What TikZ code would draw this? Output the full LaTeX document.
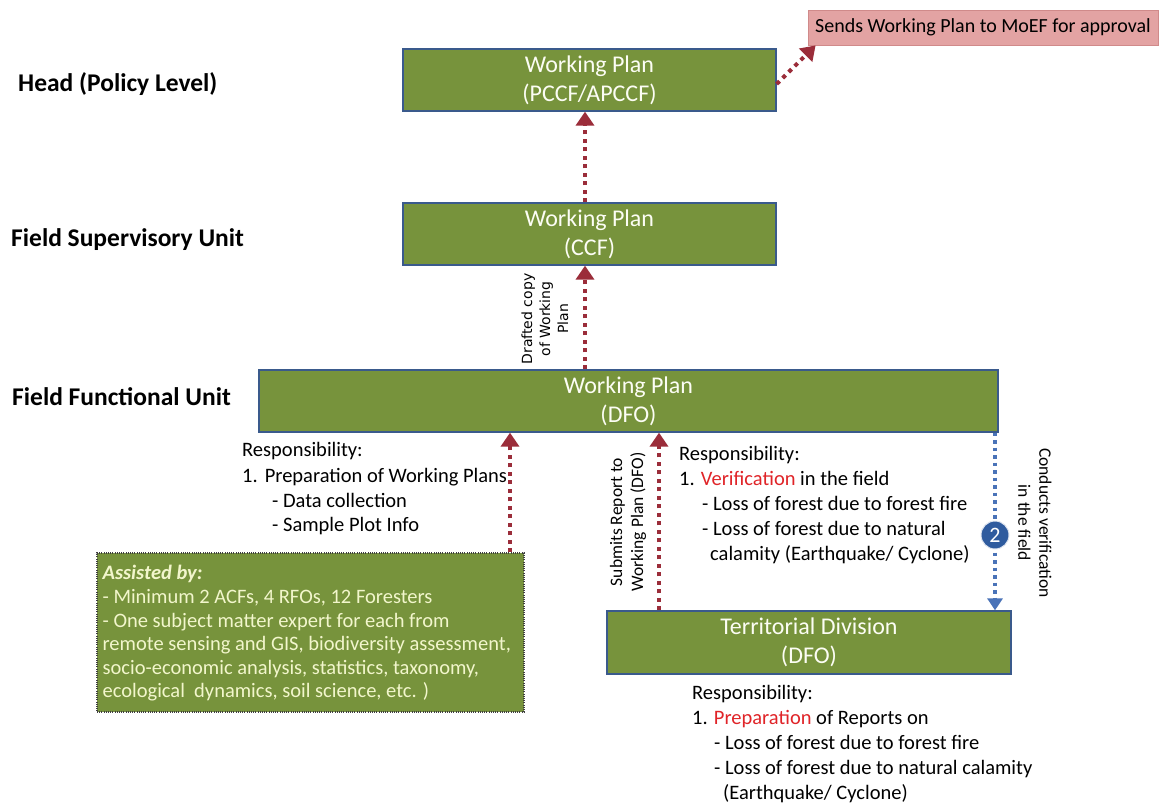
\documentclass[tikz,border=0pt]{standalone}
\usepackage{fontspec}
\setmainfont{Carlito}
\newfontfamily\vfont{DejaVu Sans}
\usetikzlibrary{arrows.meta,calc}

\definecolor{boxgreen}{HTML}{77933C}
\definecolor{boxedge}{HTML}{3A5A8C}
\definecolor{boxtext}{HTML}{FCFDF4}
\definecolor{assisttext}{HTML}{F2F6CC}
\definecolor{arrred}{HTML}{9B2D3A}
\definecolor{arrblue}{HTML}{4A73B8}
\definecolor{circblue}{HTML}{2F5B9E}
\definecolor{redtxt}{HTML}{E02428}
\definecolor{pinkfill}{HTML}{E3A3A3}
\definecolor{pinkedge}{HTML}{D08A8A}

\tikzset{
  gbox/.style={draw=boxedge, line width=1.3pt, fill=boxgreen, text=boxtext,
    font=\fontsize{24}{29}\selectfont, align=center, inner sep=0pt},
  abox/.style={draw=black!75, line width=1.2pt, dash pattern=on 1pt off 1.2pt,
    fill=boxgreen, inner sep=0pt},
  pinkbox/.style={draw=pinkedge, line width=0.8pt, fill=pinkfill, inner sep=0pt,
    font=\fontsize{20}{24}\selectfont},
  redarrow/.style={draw=arrred, line width=4pt, dash pattern=on 4pt off 4.5pt,
    -{Triangle[width=18pt,length=14pt]}},
  bluearrow/.style={draw=arrblue, line width=3.5pt, dash pattern=on 3.5pt off 4pt,
    -{Triangle[width=15pt,length=12pt]}},
  levellbl/.style={anchor=base west, inner sep=0pt, font=\bfseries\fontsize{25.5}{30}\selectfont},
  resp/.style={anchor=base west, inner sep=0pt, font=\fontsize{20.5}{25}\selectfont},
  sidelbl/.style={align=center, inner sep=0pt, font=\fontsize{17.5}{21}\selectfont},
}

\begin{document}
\begin{tikzpicture}[x=1pt, y=-1pt]
\fill[white] (0,0) rectangle (1160,804);
\useasboundingbox (0,0) rectangle (1160,804);

% level names
\node[levellbl] (lvhead) at (18,91) {Head (Policy Level)};
\node[levellbl] (lvsup) at (11,246) {Field Supervisory Unit};
\node[levellbl] (lvfun) at (12,405) {Field Functional Unit};

% boxes
\node[gbox, minimum width=373pt, minimum height=62pt] (pccf) at (589.5,80) {Working Plan\\(PCCF/APCCF)};
\node[gbox, minimum width=373pt, minimum height=62pt] (ccf) at (589.5,234) {Working Plan\\(CCF)};
\node[gbox, minimum width=739pt, minimum height=62pt] (dfo) at (628.5,401) {Working Plan\\(DFO)};
\node[gbox, minimum width=404pt, minimum height=63pt] (terr) at (809,642.5) {Territorial Division\\(DFO)};
\node[pinkbox, minimum width=350pt, minimum height=35pt] (moef) at (983,27.5) {Sends Working Plan to MoEF for approval};

% assisting staff
\node[abox, minimum width=427pt, minimum height=159pt] (assist) at (310.5,632.5) {};
\node[anchor=west, align=left, inner sep=0pt, text=assisttext,
      font=\fontsize{20.5}{23.6}\selectfont] (assisttxt) at ($(assist.west)+(6,1)$)
  {\textbf{\textit{Assisted by:}}\\
   - Minimum 2 ACFs, 4 RFOs, 12 Foresters\\
   - One subject matter expert for each from\\
   remote sensing and GIS, biodiversity assessment,\\
   socio-economic analysis, statistics, taxonomy,\\
   ecological\ \ dynamics, soil science, etc. )};

% connector columns
\coordinate (colA) at (510,0);
\coordinate (colB) at (659,0);
\coordinate (colC) at (585,0);
\coordinate (colD) at (995,0);

% reporting flow
\draw[redarrow] (ccf.north -| colC) -- (pccf.south -| colC);
\draw[redarrow] (dfo.north -| colC) -- (ccf.south -| colC);
\draw[redarrow] (assist.north -| colA) -- (dfo.south -| colA);
\draw[redarrow] (terr.north -| colB) -- (dfo.south -| colB);
\draw[redarrow] ($(pccf.east)+(0,4)$) -- ($(moef.south west)+(8,0)$);
\draw[bluearrow] (dfo.south -| colD) -- (terr.north -| colD);
\node[circle, fill=circblue, draw=white!85!circblue, line width=1pt, minimum size=28pt,
      inner sep=0pt, text=white, font=\fontsize{22}{22}\selectfont] (two) at (995,535) {2};

% connector labels
\node[rotate=90, align=center, inner sep=0pt, font=\vfont\fontsize{14}{18}\selectfont] (draftlbl) at (545,319) {Drafted copy\\of Working\\Plan};
\node[sidelbl, rotate=90] (submitlbl) at (628,522) {Submits Report to\\Working Plan (DFO)};
\node[sidelbl, rotate=-90] (conductlbl) at (1035,523) {Conducts verification\\in the field};

% responsibilities of the working plan unit
\node[resp] (r1a) at (242,456) {Responsibility:};
\node[resp] (r1b) at (242,482) {1.\hspace{7pt}Preparation of Working Plans};
\node[resp] (r1c) at (272,507) {- Data collection};
\node[resp] (r1d) at (272,531) {- Sample Plot Info};

% responsibilities during verification
\node[resp] (r2a) at (679,460) {Responsibility:};
\node[resp] (r2b) at (679,485) {1. \textcolor{redtxt}{Verification} in the field};
\node[resp] (r2c) at (702,510) {- Loss of forest due to forest fire};
\node[resp] (r2d) at (702,535) {- Loss of forest due to natural};
\node[resp] (r2e) at (710,560) {calamity (Earthquake/ Cyclone)};

% responsibilities of the territorial division
\node[resp] (r3a) at (692,699) {Responsibility:};
\node[resp] (r3b) at (692,724) {1. \textcolor{redtxt}{Preparation} of Reports on};
\node[resp] (r3c) at (714,749) {- Loss of forest due to forest fire};
\node[resp] (r3d) at (714,774) {- Loss of forest due to natural calamity};
\node[resp] (r3e) at (723,799) {(Earthquake/ Cyclone)};
\end{tikzpicture}
\end{document}
